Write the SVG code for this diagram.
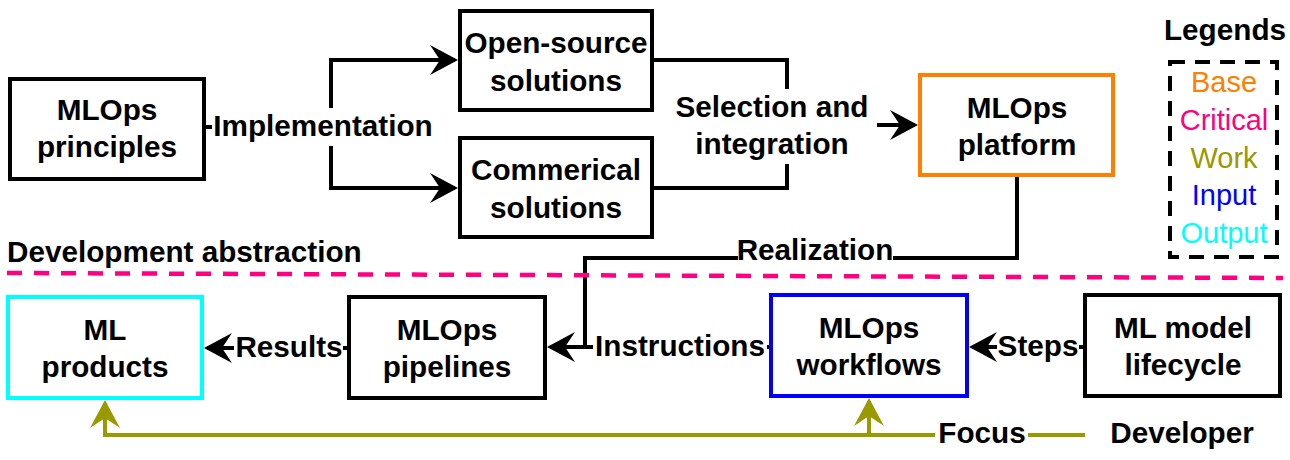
<svg xmlns="http://www.w3.org/2000/svg" width="1290" height="460" viewBox="0 0 1290 460">
<style>
.t{font-family:"Liberation Sans",Arial,sans-serif;font-size:29px;text-anchor:middle;fill:#000}
.b{font-weight:bold;font-size:29.7px}
.box{fill:#fff;stroke:#000;stroke-width:4}
.bg{fill:#fff;stroke:none}
.ln{fill:none;stroke:#000;stroke-width:4}
.ol{fill:none;stroke:#999900;stroke-width:4}
</style>
<defs>
<marker id="ab" markerUnits="userSpaceOnUse" markerWidth="30" markerHeight="30" viewBox="0 0 30 30" refX="25" refY="15" orient="auto"><path d="M0,0 L28,15 L0,30 L10,15 Z" fill="#000"/></marker>
<marker id="ao" markerUnits="userSpaceOnUse" markerWidth="30" markerHeight="30" viewBox="0 0 30 30" refX="25" refY="15" orient="auto"><path d="M0,0 L28,15 L0,30 L10,15 Z" fill="#999900"/></marker>
</defs>
<rect width="1290" height="460" fill="#fff"/>

<g id="connectors">
<path class="ln" d="M204,127 H331 V60 H455" marker-end="url(#ab)"/>
<path class="ln" d="M331,127 V188 H455" marker-end="url(#ab)"/>
<path class="ln" d="M652,60 H787 V125 H915" marker-end="url(#ab)"/>
<path class="ln" d="M652,188 H787 V125"/>
<path class="ln" d="M1017,175 V258 H585 V347"/>
<path class="ln" d="M771,347 H550" marker-end="url(#ab)"/>
<path class="ln" d="M349,348 H207" marker-end="url(#ab)"/>
<path class="ln" d="M1085,347 H972" marker-end="url(#ab)"/>
<path class="ol" d="M1085,435 H105 V403" marker-end="url(#ao)"/>
<path class="ol" d="M869,435 V401" marker-end="url(#ao)"/>
</g>

<g id="labels">
<rect class="bg" x="212" y="108" width="222" height="38"/>
<text class="t b" x="323" y="136">Implementation</text>
<rect class="bg" x="672" y="89" width="205" height="75"/>
<text class="t b" x="772" y="117">Selection and</text>
<text class="t b" x="772" y="154">integration</text>
<rect class="bg" x="738" y="238" width="155" height="30"/>
<text class="t b" x="815" y="260">Realization</text>
<rect class="bg" x="593" y="330" width="174" height="34"/>
<text class="t b" x="680" y="356">Instructions</text>
<rect class="bg" x="234" y="330" width="109" height="34"/>
<text class="t b" x="289" y="357">Results</text>
<rect class="bg" x="997" y="330" width="82" height="34"/>
<text class="t b" x="1038" y="356">Steps</text>
<rect class="bg" x="935" y="418" width="93" height="34"/>
<text class="t b" x="982" y="443">Focus</text>
</g>

<g id="abstraction">
<text class="t b" x="7" y="262" style="text-anchor:start">Development abstraction</text>
<line x1="7" y1="273" x2="1283" y2="278" stroke="#FF0080" stroke-width="4.5" stroke-dasharray="15 12"/>
</g>

<g id="principles">
<rect class="box" x="10" y="79" width="194" height="100"/>
<text class="t b" x="107" y="120">MLOps</text>
<text class="t b" x="107" y="157">principles</text>
</g>
<g id="opensource">
<rect class="box" x="460" y="11" width="192" height="99"/>
<text class="t b" x="556" y="53">Open-source</text>
<text class="t b" x="556" y="91">solutions</text>
</g>
<g id="commercial">
<rect class="box" x="460" y="138" width="192" height="99"/>
<text class="t b" x="556" y="180">Commerical</text>
<text class="t b" x="556" y="218">solutions</text>
</g>
<g id="platform">
<rect class="box" x="920" y="75" width="193" height="100" style="stroke:#FF8000"/>
<text class="t b" x="1017" y="118">MLOps</text>
<text class="t b" x="1017" y="155">platform</text>
</g>
<g id="legends">
<text class="t b" x="1225" y="40">Legends</text>
<rect x="1170" y="62" width="107" height="195" fill="none" stroke="#000" stroke-width="4" stroke-dasharray="15 10"/>
<text class="t" x="1224" y="92" style="fill:#FF8000">Base</text>
<text class="t" x="1224" y="130" style="fill:#FF0080">Critical</text>
<text class="t" x="1224" y="168" style="fill:#999900">Work</text>
<text class="t" x="1224" y="205" style="fill:#0000FF">Input</text>
<text class="t" x="1224" y="243" style="fill:#00FFFF">Output</text>
</g>
<g id="products">
<rect class="box" x="8" y="297" width="194" height="101" style="stroke:#00FFFF"/>
<text class="t b" x="105" y="340">ML</text>
<text class="t b" x="105" y="377">products</text>
</g>
<g id="pipelines">
<rect class="box" x="349" y="297" width="196" height="101"/>
<text class="t b" x="447" y="340">MLOps</text>
<text class="t b" x="447" y="377">pipelines</text>
</g>
<g id="workflows">
<rect class="box" x="771" y="295" width="196" height="101" style="stroke:#0000FF"/>
<text class="t b" x="869" y="338">MLOps</text>
<text class="t b" x="869" y="375">workflows</text>
</g>
<g id="lifecycle">
<rect class="box" x="1085" y="295" width="195" height="101"/>
<text class="t b" x="1183" y="338">ML model</text>
<text class="t b" x="1183" y="375">lifecycle</text>
</g>
<g id="developer">
<text class="t b" x="1182" y="443">Developer</text>
</g>
</svg>
